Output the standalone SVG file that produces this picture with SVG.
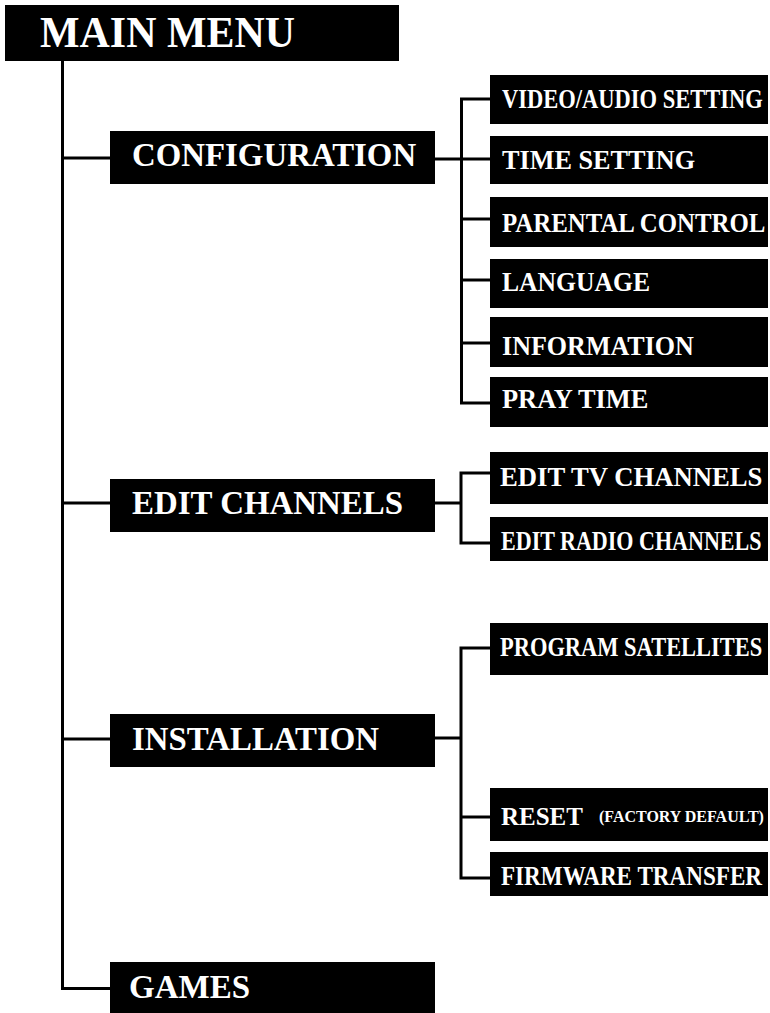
<svg xmlns="http://www.w3.org/2000/svg" width="770" height="1013" viewBox="0 0 770 1013">
<style>
.box{fill:#000;}
.t{font-family:"Liberation Serif","Times New Roman",serif;font-weight:bold;fill:#fff;}
.big{font-size:33px;}
.sub{font-size:27px;}
.con{fill:none;stroke:#000;stroke-width:3;}
</style>
<rect width="770" height="1013" fill="#fff"/>
<g id="connectors">
<path class="con" d="M62.5 61 V988.5 H110"/>
<path class="con" d="M62.5 158 H110"/>
<path class="con" d="M62.5 503 H110"/>
<path class="con" d="M62.5 739 H110"/>
<path class="con" d="M435 159 H490"/>
<path class="con" d="M490 99 H461.5 V403 H490"/>
<path class="con" d="M461.5 219 H490"/>
<path class="con" d="M461.5 280 H490"/>
<path class="con" d="M461.5 343 H490"/>
<path class="con" d="M435 503 H461"/>
<path class="con" d="M490 473 H461 V543 H490"/>
<path class="con" d="M435 738 H461"/>
<path class="con" d="M490 648 H461 V878 H490"/>
<path class="con" d="M461 817 H490"/>
</g>
<g id="main-menu"><rect class="box" x="5" y="5" width="394" height="56"/><text class="t" font-size="44" transform="translate(40,47) scale(0.953,1)">MAIN MENU</text></g>
<g id="configuration"><rect class="box" x="110" y="131" width="325" height="53"/><text class="t big" transform="translate(132,166) scale(0.996,1)">CONFIGURATION</text></g>
<g id="video-audio-setting"><rect class="box" x="490" y="75" width="278" height="49"/><text class="t sub" transform="translate(502,108) scale(0.834,1)">VIDEO/AUDIO SETTING</text></g>
<g id="time-setting"><rect class="box" x="490" y="136" width="278" height="48"/><text class="t sub" transform="translate(502,169) scale(0.971,1)">TIME SETTING</text></g>
<g id="parental-control"><rect class="box" x="490" y="197" width="278" height="50"/><text class="t sub" transform="translate(502,232) scale(0.920,1)">PARENTAL CONTROL</text></g>
<g id="language"><rect class="box" x="490" y="259" width="278" height="49"/><text class="t sub" transform="translate(502,291) scale(0.949,1)">LANGUAGE</text></g>
<g id="information"><rect class="box" x="490" y="317" width="278" height="50"/><text class="t sub" transform="translate(502,355) scale(0.965,1)">INFORMATION</text></g>
<g id="pray-time"><rect class="box" x="490" y="377" width="278" height="50"/><text class="t sub" transform="translate(502,408) scale(0.977,1)">PRAY TIME</text></g>
<g id="edit-channels"><rect class="box" x="110" y="479" width="325" height="53"/><text class="t big" transform="translate(132,514) scale(0.998,1)">EDIT CHANNELS</text></g>
<g id="edit-tv-channels"><rect class="box" x="490" y="452" width="278" height="52"/><text class="t sub" transform="translate(500,486) scale(0.988,1)">EDIT TV CHANNELS</text></g>
<g id="edit-radio-channels"><rect class="box" x="490" y="517" width="278" height="44"/><text class="t sub" transform="translate(501,550) scale(0.817,1)">EDIT RADIO CHANNELS</text></g>
<g id="installation"><rect class="box" x="110" y="714" width="325" height="53"/><text class="t big" transform="translate(132,750) scale(0.996,1)">INSTALLATION</text></g>
<g id="program-satellites"><rect class="box" x="490" y="623" width="278" height="52"/><text class="t sub" transform="translate(500,656) scale(0.832,1)">PROGRAM SATELLITES</text></g>
<g id="reset"><rect class="box" x="490" y="788" width="278" height="53"/><text class="t" font-size="26" transform="translate(501,825) scale(0.961,1)">RESET</text><text class="t" font-size="16" x="599" y="822">(FACTORY DEFAULT)</text></g>
<g id="firmware-transfer"><rect class="box" x="490" y="852" width="278" height="44"/><text class="t sub" transform="translate(501,885) scale(0.857,1)">FIRMWARE TRANSFER</text></g>
<g id="games"><rect class="box" x="110" y="962" width="325" height="51"/><text class="t big" x="129" y="998">GAMES</text></g>
</svg>
